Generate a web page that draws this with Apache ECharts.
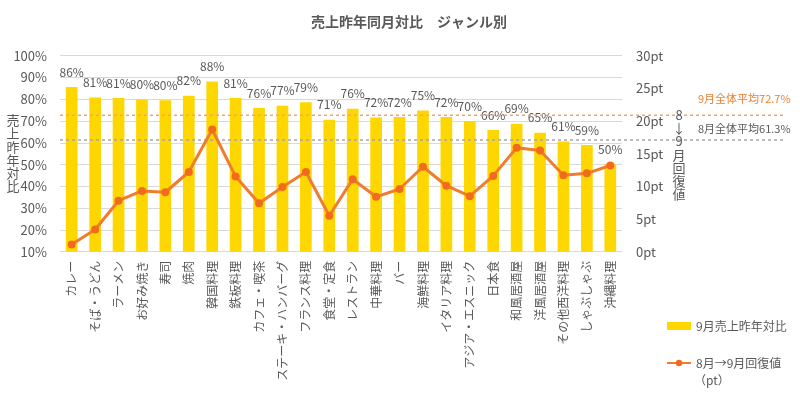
<!DOCTYPE html>
<html><head><meta charset="utf-8">
<script src="https://cdn.jsdelivr.net/npm/echarts@6/dist/echarts.min.js"></script>
<style>html,body{margin:0;padding:0;background:#fff}#c{width:800px;height:402px}</style>
</head><body><div id="c"></div>
<script>
const categories = ['カレー','そば・うどん','ラーメン','お好み焼き','寿司','焼肉','韓国料理','鉄板料理','カフェ・喫茶','ステーキ・ハンバーグ','フランス料理','食堂・定食','レストラン','中華料理','バー','海鮮料理','イタリア料理','アジア・エスニック','日本食','和風居酒屋','洋風居酒屋','その他西洋料理','しゃぶしゃぶ','沖縄料理'];
const salesYoY = [85.6,80.8,80.6,79.9,79.6,81.6,88.1,80.6,76.0,77.0,78.6,70.6,75.6,71.6,71.8,74.8,71.8,70.0,65.9,68.8,64.6,60.6,59.0,50.2];
const recoveryPt = [1.1,3.4,7.8,9.3,9.1,12.2,18.7,11.5,7.4,9.9,12.2,5.5,11.1,8.4,9.6,13.0,10.1,8.5,11.6,15.9,15.5,11.7,12.0,13.2];
const leftTicks = {min:10, max:100, interval:10};
const rightTicks = {min:0, max:30, interval:5};
const sepAvg = 72.7;
const augAvg = 61.3;
const leftName = ['売','上','昨','年','対','比'];
const rightName = ['8','↓','9','月','回','復','値'];

const FONT = '"Noto Sans CJK JP", "Noto Sans", sans-serif';
const GRAY = '#595959';
const chart = echarts.init(document.getElementById('c'));
chart.setOption({
  animation:false,
  textStyle:{fontFamily:FONT},
  title:{text:'売上昨年同月対比　ジャンル別', left:404, textAlign:'center', top:10,
    textStyle:{fontSize:14, fontWeight:'bold', color:GRAY, fontFamily:FONT}},
  grid:{left:60, right:178, top:55.7, bottom:150.3},
  legend:{orient:'vertical', left:661, top:315, itemGap:25, itemWidth:24, itemHeight:8,
    textStyle:{fontSize:12, color:GRAY, fontFamily:FONT},
    data:[{name:'9月売上昨年対比', icon:'rect'}, {name:'8月→9月回復値'}]},
  xAxis:{type:'category', data:categories,
    axisLine:{lineStyle:{color:'#d9d9d9'}}, axisTick:{show:false},
    axisLabel:{interval:0, rotate:90, fontSize:12, color:GRAY, margin:9, fontFamily:FONT}},
  yAxis:[
    {type:'value', min:leftTicks.min, max:leftTicks.max, interval:leftTicks.interval,
     axisLabel:{formatter:'{value}%', fontSize:13, color:GRAY, margin:13, fontFamily:FONT},
     splitLine:{lineStyle:{color:'#d9d9d9'}}, axisLine:{show:false}, axisTick:{show:false}},
    {type:'value', min:rightTicks.min, max:rightTicks.max, interval:rightTicks.interval,
     axisLabel:{formatter:'{value}pt', fontSize:13, color:GRAY, margin:14, fontFamily:FONT},
     splitLine:{show:false}, axisLine:{show:false}, axisTick:{show:false}}
  ],
  series:[
    {name:'9月売上昨年対比', type:'bar', data:salesYoY, barWidth:'50%', z:2,
     itemStyle:{color:'#FFD700'},
     label:{show:true, position:'top', distance:9, fontSize:12, color:GRAY, fontFamily:FONT,
       formatter:p=>Math.round(p.value)+'%'}},
    {name:'8月→9月回復値', type:'line', yAxisIndex:1, data:recoveryPt, z:5,
     lineStyle:{color:'#F07D2E', width:3}, itemStyle:{color:'#F26B1D'},
     symbol:'circle', symbolSize:8}
  ]
});
const ySep = chart.convertToPixel({yAxisIndex:0}, sepAvg);
const yAug = chart.convertToPixel({yAxisIndex:0}, augAvg);
const graphics = [
  {type:'line', z:4, shape:{x1:60,y1:ySep,x2:785,y2:ySep}, style:{stroke:'#F4A46E', lineWidth:1.5, lineDash:[3,3]}},
  {type:'line', z:4, shape:{x1:60,y1:yAug,x2:785,y2:yAug}, style:{stroke:'#A6A6A6', lineWidth:1.5, lineDash:[3,3]}},
  {type:'text', x:698, y:ySep-16, z:6, style:{text:'9月全体平均'+sepAvg+'%', fontSize:11, fill:'#F07D2E', fontFamily:FONT, verticalAlign:'middle'}},
  {type:'text', x:698, y:yAug-11, z:6, style:{text:'8月全体平均'+augAvg+'%', fontSize:11, fill:GRAY, fontFamily:FONT, verticalAlign:'middle'}},
  {type:'text', x:694, y:380, z:6, style:{text:'（pt）', fontSize:12, fill:GRAY, fontFamily:FONT, verticalAlign:'middle'}}
];
leftName.forEach((ch,i)=>graphics.push({type:'text', x:13, y:120+i*13.3, z:6,
  style:{text:ch, fontSize:13, fill:GRAY, fontFamily:FONT, align:'center', verticalAlign:'middle'}}));
rightName.forEach((ch,i)=>graphics.push({type:'text', x:679, y:115+i*13.2, z:6,
  style:{text:ch, fontSize:13, fill:GRAY, fontFamily:FONT, align:'center', verticalAlign:'middle'}}));
chart.setOption({graphic:graphics});
</script></body></html>
